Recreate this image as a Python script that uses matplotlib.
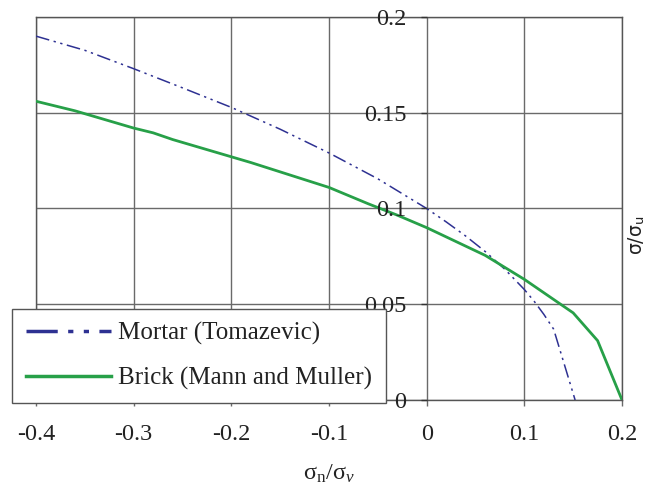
import matplotlib
matplotlib.use("Agg")
import matplotlib.pyplot as plt

plt.rcParams['font.family'] = ['Liberation Serif', 'DejaVu Sans']
plt.rcParams['mathtext.fontset'] = 'custom'
plt.rcParams['mathtext.rm'] = 'Liberation Serif'
plt.rcParams['mathtext.it'] = 'Liberation Serif:italic'

# values
mortar_x = [-0.40, -0.35, -0.30, -0.25, -0.20, -0.15, -0.10, -0.05, 0.00,
            0.02, 0.04, 0.06, 0.08, 0.10, 0.11, 0.12, 0.13, 0.152]
mortar_y = [0.190, 0.1826, 0.173, 0.163, 0.1528, 0.1414, 0.129, 0.1155, 0.100,
            0.093, 0.0856, 0.0775, 0.0683, 0.0577, 0.0516, 0.0447, 0.037, 0.0]

brick_x = [-0.40, -0.36, -0.34, -0.32, -0.30, -0.28, -0.26, -0.24, -0.20, -0.18,
           -0.14, -0.10, -0.06, -0.03, 0.00, 0.06, 0.10, 0.15, 0.175, 0.20]
brick_y = [0.156, 0.151, 0.148, 0.145, 0.142, 0.1395, 0.136, 0.133, 0.127, 0.124,
           0.1175, 0.111, 0.1025, 0.0965, 0.090, 0.0755, 0.063, 0.0455, 0.031, 0.0]

x_ticks = [-0.4, -0.3, -0.2, -0.1, 0, 0.1, 0.2]
x_tick_labels = ['-0.4', '-0.3', '-0.2', '-0.1', '0', '0.1', '0.2']
y_ticks = [0, 0.05, 0.1, 0.15, 0.2]
y_tick_labels = ['0', '0.05', '0.1', '0.15', '0.2']

W, H = 647, 487
fig = plt.figure(figsize=(W / 100, H / 100), dpi=100)

fs = 17.5
left, right, bottom, top = 36, 622, 400, 17
ax = fig.add_axes([left / W, (H - bottom) / H, (right - left) / W, (bottom - top) / H])
ax.set_xlim(-0.4, 0.2)
ax.set_ylim(0, 0.2)

grid_color = '#6a6a6a'
ax.set_xticks(x_ticks)
ax.set_xticklabels(x_tick_labels, fontsize=fs, color='#222222')
ax.set_yticks(y_ticks)
ax.tick_params(axis='x', direction='out', length=4.5, width=1, color=grid_color, pad=13)
ax.tick_params(axis='y', left=False, labelleft=False)
ax.grid(True, color=grid_color, linewidth=1)
for s in ax.spines.values():
    s.set_color('#555555')
    s.set_linewidth(1)

ax.plot(mortar_x, mortar_y, color='#2e3192', linewidth=1.1,
        dashes=(9, 3, 1.5, 3, 1.5, 3), label='Mortar (Tomazevic)', zorder=3)
ax.plot(brick_x, brick_y, color='#27a048', linewidth=2,
        label='Brick (Mann and Muller)', zorder=3)

# y axis crossing at x = 0
x0 = left + (0 - (-0.4)) / 0.6 * (right - left)
ay = fig.add_axes([x0 / W, (H - bottom) / H, 0.001, (bottom - top) / H])
ay.set_ylim(0, 0.2)
ay.patch.set_visible(False)
for s in ay.spines.values():
    s.set_visible(False)
ay.set_xticks([])
ay.set_yticks(y_ticks)
ay.set_yticklabels(y_tick_labels, fontsize=fs, color='#222222')
ay.tick_params(axis='y', direction='out', length=4.5, width=1, color='#333333', pad=10)

ax.set_xlabel('σ$_\\mathregular{n}$/σ$_\\mathit{ν}$', fontsize=fs, color='#222222')
ax.xaxis.set_label_coords(0.5, -0.163)
ax.set_ylabel('σ/σ$_\\mathregular{u}$', fontsize=13.5, family='DejaVu Sans', color='#222222')
ax.yaxis.set_label_position('right')
ax.yaxis.set_label_coords(1.007, 0.43)

handles, labels = ax.get_legend_handles_labels()
leg = fig.legend(handles, labels, loc='center left',
                 bbox_to_anchor=(12 / W, (H - 405) / H, 374 / W, 98 / H),
                 mode='expand', fontsize=18, frameon=True, fancybox=False,
                 edgecolor='#555555', framealpha=1, handlelength=3.4,
                 handletextpad=0.3, labelspacing=0.85, borderaxespad=0,
                 borderpad=0.55)
leg.get_frame().set_linewidth(1)
for t in leg.get_texts():
    t.set_color('#222222')
for h in leg.legend_handles:
    h.set_linewidth(2.5)

fig.savefig('out.png', dpi=100)
